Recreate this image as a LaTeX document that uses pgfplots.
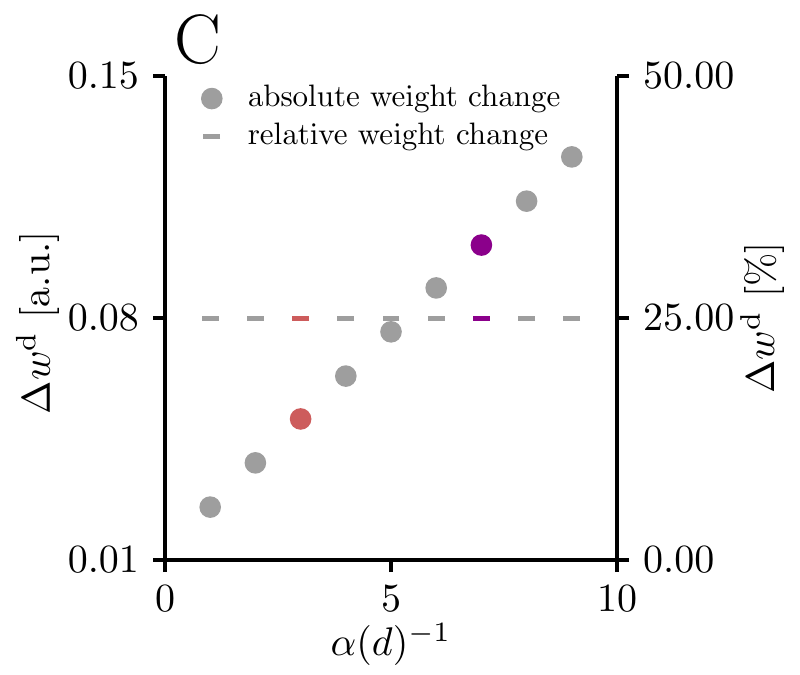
\documentclass[border=0pt]{standalone}
\usepackage{pgfplots}
\pgfplotsset{compat=1.18}
\definecolor{ptgray}{RGB}{158,158,158}
\definecolor{ptred}{RGB}{205,92,92}
\definecolor{ptpurple}{RGB}{139,0,139}
\font\legfont=cmr10 at 7.75pt
\begin{document}
\begin{tikzpicture}
\pgfplotsset{
 common/.style={scale only axis, width=113pt, height=121pt, xmin=0, xmax=10,
   tick align=outside, major tick length=3pt,
   every tick/.style={black, line width=0.8pt},
   axis line style={line width=0.8pt},
   tick label style={font=\fontsize{10}{12}\selectfont},
   label style={font=\fontsize{10}{12}\selectfont},
   clip=false},
}
\begin{axis}[common,
  axis x line*=bottom, axis y line*=left,
  ymin=0.01, ymax=0.15, ytick={0.01,0.08,0.15},
  y tick label style={/pgf/number format/.cd, fixed, fixed zerofill, precision=2},
  xtick={0,5,10},
  xlabel={$\alpha(d)^{-1}$}, ylabel={$\Delta w^{\mathrm{d}}$ [a.u.]},
  xlabel style={at={(axis description cs:0.5,-0.175)}, anchor=center},
  ylabel style={at={(axis description cs:-0.281,0.49)}, anchor=center},
  legend style={draw=none, fill=none, at={(axis description cs:0,1)}, anchor=north west,
    xshift=6pt, yshift=1pt, font=\legfont, row sep=0.6pt, nodes={inner sep=1pt},
    /tikz/every odd column/.append style={column sep=5.5pt}},
  legend cell align=left,
]
\addlegendimage{only marks, mark=*, mark size=2.5pt, ptgray, mark options={draw=none}}
\addlegendentry{absolute weight change}
\addlegendimage{only marks, mark=-, mark size=2.1pt, ptgray, mark options={line width=1.25pt}}
\addlegendentry{relative weight change}
\addplot[only marks, mark=*, mark size=2.5pt, ptgray, mark options={draw=none}, forget plot] coordinates {
(1,0.0253) (2,0.0381) (4,0.0632) (5,0.0760) (6,0.0887) (8,0.1138) (9,0.1266)};
\addplot[only marks, mark=*, mark size=2.5pt, ptred, mark options={draw=none}, forget plot] coordinates {(3,0.0508)};
\addplot[only marks, mark=*, mark size=2.5pt, ptpurple, mark options={draw=none}, forget plot] coordinates {(7,0.1011)};
\node[anchor=base west, font=\fontsize{17.5}{20}\selectfont] at (rel axis cs:0,1) [xshift=-1.25pt, yshift=3.25pt] {C};
\end{axis}
\begin{axis}[common, axis y line*=right, hide x axis,
  ymin=0, ymax=50, ytick={0,25,50},
  y tick label style={/pgf/number format/.cd, fixed, fixed zerofill, precision=2},
  ylabel={$\Delta w^{\mathrm{d}}$ [\%]},
  ylabel style={at={(axis description cs:1.321,0.5)}, anchor=center},
]
\addplot[only marks, mark=-, mark size=2.1pt, ptgray, mark options={line width=1.25pt}] coordinates {
(1,25) (2,25) (4,25) (5,25) (6,25) (8,25) (9,25)};
\addplot[only marks, mark=-, mark size=2.1pt, ptred, mark options={line width=1.25pt}] coordinates {(3,25)};
\addplot[only marks, mark=-, mark size=2.1pt, ptpurple, mark options={line width=1.25pt}] coordinates {(7,25)};
\end{axis}
\pgfresetboundingbox
\path[use as bounding box] (-41.25pt,-28.5pt) rectangle (158.75pt,140pt);
\end{tikzpicture}
\end{document}
